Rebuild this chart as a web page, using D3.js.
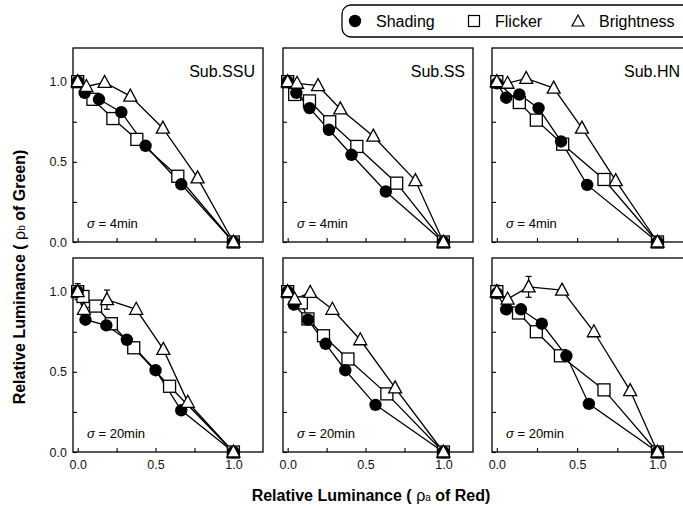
<!DOCTYPE html>
<html>
<head>
<meta charset="utf-8">
<script src="https://cdn.jsdelivr.net/npm/d3@7"></script>
<style>
  body { margin:0; background:#fff; }
  svg { font-family: "Liberation Sans", Arial, Helvetica, sans-serif; }
</style>
</head>
<body>
<div id="graphWrapper"></div>
<script>
//data, one entry per subject (SSU, SS, HN)
const subjects = ['Sub.SSU', 'Sub.SS', 'Sub.HN'];
const sigmas = ['4min', '20min'];
const seriesNames = ['Shading', 'Flicker', 'Brightness'];
const tickValues = [0, 0.25, 0.5, 0.75, 1.0];
const tickLabels = ['0.0', '', '0.5', '', '1.0'];

const shading4 = [
    [[0,1.0],[0.045,0.93],[0.137,0.89],[0.28,0.81],[0.436,0.60],[0.665,0.36],[1.0,0.0]],
    [[0,1.0],[0.056,0.93],[0.14,0.835],[0.265,0.70],[0.41,0.544],[0.63,0.315],[1.0,0.0]],
    [[0,0.99],[0.058,0.90],[0.14,0.92],[0.26,0.835],[0.40,0.627],[0.5625,0.356],[1.0,0.0]]
];
const flicker4 = [
    [[0,1.0],[0.098,0.89],[0.226,0.77],[0.38,0.64],[0.643,0.41],[1.0,0.0]],
    [[0,1.0],[0.045,0.92],[0.14,0.88],[0.27,0.75],[0.444,0.596],[0.70,0.367],[1.0,0.0]],
    [[0,1.0],[0.14,0.87],[0.246,0.76],[0.41,0.61],[0.667,0.39],[1.0,0.0]]
];
const brightness4 = [
    [[0,1.0],[0.056,0.97],[0.173,0.995],[0.338,0.91],[0.547,0.71],[0.77,0.40],[1.0,0.0]],
    [[0,1.0],[0.06,0.99],[0.195,0.975],[0.338,0.83],[0.55,0.66],[0.82,0.383],[1.0,0.0]],
    [[0,1.0],[0.067,0.99],[0.183,1.02],[0.354,0.96],[0.53,0.71],[0.74,0.383],[1.0,0.0]]
];
const shading20 = [
    [[0,1.0],[0.05,0.825],[0.184,0.79],[0.316,0.70],[0.5,0.51],[0.665,0.26],[1.0,0.0]],
    [[0,1.0],[0.04,0.92],[0.13,0.825],[0.244,0.675],[0.37,0.51],[0.564,0.294],[1.0,0.0]],
    [[0,0.99],[0.058,0.89],[0.15,0.89],[0.28,0.80],[0.433,0.60],[0.573,0.30],[1.0,0.0]]
];
const flicker20 = [
    [[0,1.0],[0.034,0.97],[0.115,0.91],[0.216,0.80],[0.36,0.65],[0.59,0.41],[1.0,0.0]],
    [[0,1.0],[0.088,0.93],[0.13,0.83],[0.23,0.725],[0.387,0.58],[0.637,0.3625],[1.0,0.0]],
    [[0,1.0],[0.135,0.867],[0.246,0.75],[0.396,0.60],[0.667,0.3875],[1.0,0.0]]
];
const brightness20 = [
    [[0,1.0],[0.04,0.89],[0.188,0.95],[0.376,0.89],[0.55,0.64],[0.707,0.31],[1.0,0.0]],
    [[0,1.0],[0.045,0.954],[0.145,0.995],[0.287,0.89],[0.466,0.70],[0.69,0.40],[1.0,0.0]],
    [[0,1.0],[0.067,0.954],[0.198,1.03],[0.406,1.01],[0.604,0.75],[0.83,0.383],[1.0,0.0]]
];
//half length of the error bars on the brightness points (sigma = 20min)
const brightnessErr20 = [
    [0.05,0,0.06,0,0,0,0],
    [0,0,0,0,0,0,0],
    [0.04,0,0.065,0,0,0,0]
];

const CONSTANTS = {
    WIDTH:683,
    HEIGHT:509,
    COL_LEFT:[73, 283, 492],    //left edge of each column of panels
    COL_WIDTH:[190, 190, 196],
    ROW_TOP:[48, 258],          //top edge of each row of panels
    PANEL_HEIGHT:194,
    X_DOMAIN:[-0.03, 1.19],
    Y_DOMAIN:[0, 1.21],
    TICK:4
};

const triangle = 'M0,-7L6.5,5L-6.5,5Z';

function main(){
    let svg = d3.select('#graphWrapper')
        .append('svg')
        .attr('width', CONSTANTS.WIDTH)
        .attr('height', CONSTANTS.HEIGHT);

    let rows = [
        {sigma:sigmas[0], shading:shading4, flicker:flicker4, brightness:brightness4, err:null},
        {sigma:sigmas[1], shading:shading20, flicker:flicker20, brightness:brightness20, err:brightnessErr20}
    ];

    rows.forEach((row, r) => {
        subjects.forEach((name, c) => {
            buildPanel(svg, r, c, name, row);
        });
    });

    buildLegend(svg);
    buildLabels(svg);
}

function buildPanel(svg, r, c, name, row){
    let left = CONSTANTS.COL_LEFT[c];
    let top = CONSTANTS.ROW_TOP[r];
    let w = CONSTANTS.COL_WIDTH[c];
    let h = CONSTANTS.PANEL_HEIGHT;

    let x = d3.scaleLinear().domain(CONSTANTS.X_DOMAIN).range([0, w]);
    let y = d3.scaleLinear().domain(CONSTANTS.Y_DOMAIN).range([h, 0]);

    let g = svg.append('g').attr('transform', 'translate(' + left + ',' + top + ')');

    //axes, ticks point inward
    let xAxis = d3.axisBottom(x)
        .tickValues(tickValues)
        .tickSize(-CONSTANTS.TICK)
        .tickPadding(8)
        .tickFormat((d, i) => r == 1 ? tickLabels[i] : '');
    let yAxis = d3.axisLeft(y)
        .tickValues(tickValues)
        .tickSize(-CONSTANTS.TICK)
        .tickPadding(6)
        .tickFormat((d, i) => c == 0 ? tickLabels[i] : '');

    let gx = g.append('g').attr('transform', 'translate(0,' + h + ')').call(xAxis);
    let gy = g.append('g').call(yAxis);
    [gx, gy].forEach(a => {
        a.select('.domain').remove();
        a.selectAll('line').attr('stroke', '#000').attr('stroke-width', 1.1);
        a.selectAll('text').attr('font-size', 12.5).attr('fill', '#111')
            .attr('font-family', '"Liberation Sans", Arial, sans-serif');
    });

    //frame
    g.append('rect')
        .attr('width', w)
        .attr('height', h)
        .attr('fill', 'none')
        .attr('stroke', '#000')
        .attr('stroke-width', 1.3);

    let line = d3.line().x(d => x(d[0])).y(d => y(d[1]));
    let series = [row.flicker[c], row.shading[c], row.brightness[c]];
    series.forEach(s => {
        g.append('path')
            .attr('d', line(s))
            .attr('fill', 'none')
            .attr('stroke', '#000')
            .attr('stroke-width', 1.3);
    });

    //error bars
    if(row.err){
        let pts = row.brightness[c];
        row.err[c].forEach((e, i) => {
            if(e <= 0) return;
            let px = x(pts[i][0]);
            let y1 = y(pts[i][1] + e), y2 = y(pts[i][1] - e);
            g.append('line').attr('x1', px).attr('x2', px).attr('y1', y1).attr('y2', y2)
                .attr('stroke', '#000').attr('stroke-width', 1.2);
            [y1, y2].forEach(yy => {
                g.append('line').attr('x1', px - 3).attr('x2', px + 3).attr('y1', yy).attr('y2', yy)
                    .attr('stroke', '#000').attr('stroke-width', 1.2);
            });
        });
    }

    //markers: squares, then circles, then triangles on top
    g.selectAll('.sq')
        .data(row.flicker[c])
        .enter()
        .append('rect')
        .attr('class', 'sq')
        .attr('x', d => x(d[0]) - 6)
        .attr('y', d => y(d[1]) - 6)
        .attr('width', 12)
        .attr('height', 12)
        .attr('fill', '#fff')
        .attr('stroke', '#000')
        .attr('stroke-width', 1.3);

    g.selectAll('.dot')
        .data(row.shading[c])
        .enter()
        .append('circle')
        .attr('class', 'dot')
        .attr('cx', d => x(d[0]))
        .attr('cy', d => y(d[1]))
        .attr('r', 6.2)
        .attr('fill', '#000');

    g.selectAll('.tri')
        .data(row.brightness[c])
        .enter()
        .append('path')
        .attr('class', 'tri')
        .attr('d', triangle)
        .attr('transform', d => 'translate(' + x(d[0]) + ',' + y(d[1]) + ')')
        .attr('fill', '#fff')
        .attr('stroke', '#000')
        .attr('stroke-width', 1.3);

    //panel texts
    if(r == 0){
        g.append('text')
            .attr('x', w - 8)
            .attr('y', 29)
            .attr('text-anchor', 'end')
            .attr('font-size', 16)
            .text(name);
    }
    let sig = g.append('text')
        .attr('x', 14)
        .attr('y', h - 14)
        .attr('font-size', 13);
    sig.append('tspan').attr('font-style', 'italic').text('σ');
    sig.append('tspan').text(' = ' + row.sigma);
}

function buildLegend(svg){
    let g = svg.append('g');
    g.append('rect')
        .attr('x', 342).attr('y', 5)
        .attr('width', 350).attr('height', 32)
        .attr('rx', 9)
        .attr('fill', '#fff')
        .attr('stroke', '#000')
        .attr('stroke-width', 1.3);

    let items = [
        {x:355, type:'circle'},
        {x:474, type:'square'},
        {x:578, type:'triangle'}
    ];
    items.forEach((it, i) => {
        if(it.type == 'circle'){
            g.append('circle').attr('cx', it.x).attr('cy', 21).attr('r', 6.2).attr('fill', '#000');
        } else if(it.type == 'square'){
            g.append('rect').attr('x', it.x - 5.5).attr('y', 15.5).attr('width', 11).attr('height', 11)
                .attr('fill', '#fff').attr('stroke', '#000').attr('stroke-width', 1.2);
        } else {
            g.append('path').attr('d', 'M0,-6L6,5L-6,5Z').attr('transform', 'translate(' + it.x + ',21)')
                .attr('fill', '#fff').attr('stroke', '#000').attr('stroke-width', 1.2);
        }
        g.append('text')
            .attr('x', it.x + 21)
            .attr('y', 27)
            .attr('font-size', 16)
            .text(seriesNames[i]);
    });
}

function buildLabels(svg){
    let xl = svg.append('text')
        .attr('x', 371)
        .attr('y', 501)
        .attr('text-anchor', 'middle')
        .attr('font-size', 16)
        .attr('font-weight', 'bold');
    xl.append('tspan').text('Relative Luminance ( ');
    xl.append('tspan').attr('font-weight', 'normal').text('ρ');
    xl.append('tspan').attr('font-size', 10).attr('font-weight', 'normal').text('a');
    xl.append('tspan').text(' of Red)');

    let yl = svg.append('text')
        .attr('transform', 'translate(25,277) rotate(-90)')
        .attr('text-anchor', 'middle')
        .attr('font-size', 16)
        .attr('font-weight', 'bold');
    yl.append('tspan').text('Relative Luminance ( ');
    yl.append('tspan').attr('font-weight', 'normal').text('ρ');
    yl.append('tspan').attr('font-size', 10).attr('font-weight', 'normal').text('b');
    yl.append('tspan').text(' of Green)');
}

main();
</script>
</body>
</html>
